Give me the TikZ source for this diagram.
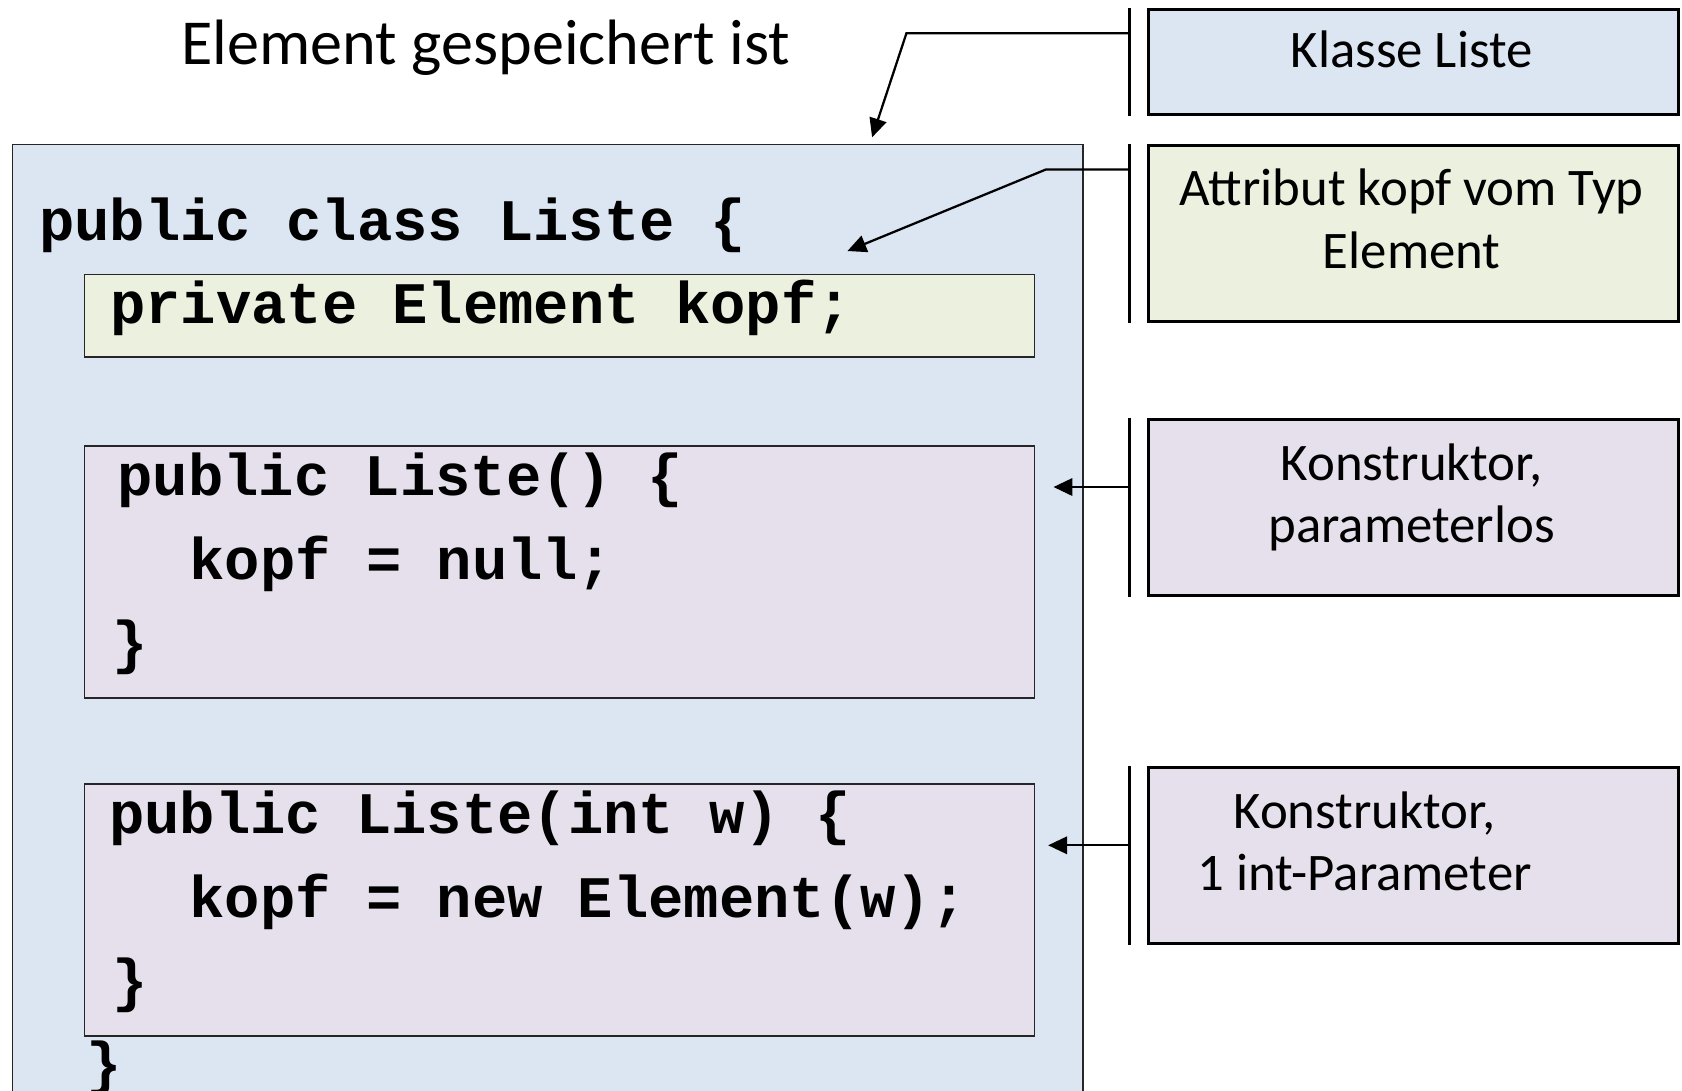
\documentclass[tikz,border=0pt]{standalone}
\usepackage{fontspec}
\setmainfont{Carlito}
\setmonofont{Liberation Mono}
\usepackage{xcolor}
\usetikzlibrary{arrows.meta}
\definecolor{klasseblau}{HTML}{DCE6F2}
\definecolor{attrgruen}{HTML}{EBF1DE}
\definecolor{konstlila}{HTML}{E5E0EC}

\begin{document}
\begin{tikzpicture}[x=0.01cm, y=-0.01cm,
		codebox/.style={draw=black!85, line width=0.45pt, anchor=north west, inner sep=0pt, minimum width=8.85cm},
		infobox/.style={draw=black, line width=0.8pt, anchor=north west, inner sep=0pt, minimum width=4.94cm, minimum height=1.64cm},
		infotext/.style={anchor=base, align=center, inner sep=0pt, font=\fontsize{14}{16.5}\selectfont},
		code/.style={anchor=base west, inner sep=0pt, font=\fontsize{15.6}{18}\selectfont\ttfamily\bfseries},
		bracket/.style={line width=0.6pt},
		conn/.style={line width=0.6pt, -{Triangle[length=5pt, width=4.6pt]}}]
			\clip (0,0) rectangle (1568,1017);
			
			% class body
			\node[draw=black!85, line width=0.45pt, fill=klasseblau, anchor=north west, inner sep=0pt,
				minimum width=9.97cm, minimum height=9.1cm] (klasse) at (11,134) {};
			\node[anchor=base, inner sep=0pt, font=\fontsize{17}{20}\selectfont] (titel) at (453,60) {Element gespeichert ist};
			
			\node[code] (zKlasse) at (36,224) {public class Liste \{};
			\node[codebox, fill=attrgruen, minimum height=0.77cm] (attr) at (78,255) {};
			\node[code] (zAttr) at (102,302) {private Element kopf;};
			
			\node[codebox, fill=konstlila, minimum height=2.35cm] (konst1) at (78,415) {};
			\node[code] (zKonst1a) at (109,462) {public Liste() \{};
			\node[code] (zKonst1b) at (176,540) {kopf = null;};
			\node[code] (zKonst1c) at (104,618) {\}};
			
			\node[codebox, fill=konstlila, minimum height=2.35cm] (konst2) at (78,730) {};
			\node[code] (zKonst2a) at (101,777) {public Liste(int w) \{};
			\node[code] (zKonst2b) at (176,855) {kopf = new Element(w);};
			\node[code] (zKonst2c) at (104,933) {\}};
			\node[code] (zEnde) at (80,1010) {\}};
			
			% labels on the right
			\node[infobox, fill=klasseblau, minimum height=0.98cm] (lblKlasse) at (1069,7) {};
			\node[infobox, fill=attrgruen] (lblAttr) at (1069,134) {};
			\node[infobox, fill=konstlila] (lblKonst1) at (1069,390) {};
			\node[infobox, fill=konstlila] (lblKonst2) at (1069,714) {};
			
			\node[infotext] (tKlasse) at (1316,63) {Klasse Liste};
			\node[infotext] (tAttr) at (1316,250) {Attribut kopf vom Typ\\Element};
			\node[infotext] (tKonst1) at (1316,506) {Konstruktor,\\parameterlos};
			\node[infotext] (tKonst2) at (1272,830) {Konstruktor,\\1 int-Parameter};
			
			% brackets
			\foreach \b in {lblKlasse, lblAttr, lblKonst1, lblKonst2}
				\draw[bracket] ([xshift=-0.16cm]\b.north west) -- ([xshift=-0.16cm]\b.south west);
			
			% connectors
			\coordinate (brKlasse) at (1053,31);
			\coordinate (brAttr) at (1053,158);
			\coordinate (brKonst1) at (1053,454);
			\coordinate (brKonst2) at (1053,788);
			\coordinate (tipKlasse) at (813,128);
			\coordinate (tipAttr) at (790,234);
			\draw[conn] (brKlasse) -- (845,31) -- (tipKlasse);
			\draw[conn] (brAttr) -- (975,158) -- (tipAttr);
			\draw[conn] (brKonst1) -- ([xshift=0.17cm]konst1.east |- brKonst1);
			\draw[conn] (brKonst2) -- ([xshift=0.12cm]konst2.east |- brKonst2);
		\end{tikzpicture}
\end{document}
